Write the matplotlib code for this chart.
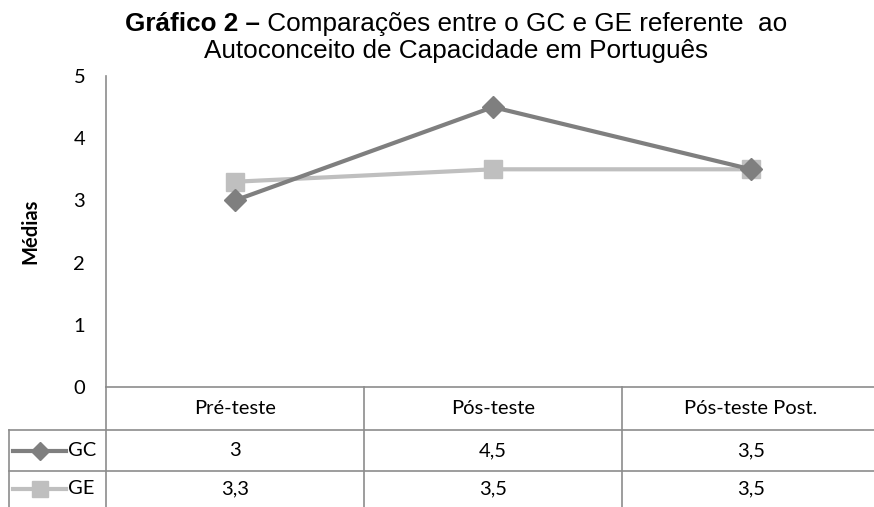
import matplotlib.pyplot as plt
from matplotlib.lines import Line2D
from matplotlib.transforms import blended_transform_factory

categories = ["Pré-teste", "Pós-teste", "Pós-teste Post."]
gc_values = [3, 4.5, 3.5]
ge_values = [3.3, 3.5, 3.5]
series_names = ["GC", "GE"]
yticks = [0, 1, 2, 3, 4, 5]

W, H = 874, 507
GC_COLOR = "#7f7f7f"
GE_COLOR = "#bfbfbf"
GRID = "#8c8c8c"
TICK_FONT = ["Lato", "DejaVu Sans"]
TITLE_FONT = ["Liberation Sans", "DejaVu Sans"]
FS = 14.5
LW = 3.0


def fx(px):
    return px / W


def fy(py):
    return 1 - py / H


def fmt(v):
    return ("%g" % v).replace(".", ",")


fig = plt.figure(figsize=(W / 100, H / 100), dpi=100)
ax = fig.add_axes([fx(106), fy(387), fx(880) - fx(106), fy(76) - fy(387)])

x = list(range(len(categories)))
ax.plot(x, gc_values, color=GC_COLOR, lw=LW, marker="D", ms=11, zorder=3)
ax.plot(x, ge_values, color=GE_COLOR, lw=LW, marker="s", ms=12.5, zorder=2)

ax.set_xlim(-0.5, len(categories) - 0.5)
ax.set_ylim(0, 5)
ax.set_yticks(yticks)
ax.set_yticklabels([str(t) for t in yticks], family=TICK_FONT, fontsize=FS)
ax.tick_params(axis="y", length=0, pad=15)
ax.set_xticks([])
for s in ["top", "right"]:
    ax.spines[s].set_visible(False)
for s in ["left", "bottom"]:
    ax.spines[s].set_color(GRID)
    ax.spines[s].set_linewidth(1.2)

ax.set_ylabel("Médias", family=TICK_FONT, fontsize=FS, fontweight="bold", labelpad=24)

# title: bold lead-in followed by regular text, centred as one line
renderer = fig.canvas.get_renderer()
bold = fig.text(0, fy(24), "Gráfico 2 –", ha="left", va="center",
                family=TITLE_FONT, fontsize=18.8, fontweight="bold")
rest = fig.text(0, fy(24), " Comparações entre o GC e GE referente  ao", ha="left",
                va="center", family=TITLE_FONT, fontsize=18.8)
wb = bold.get_window_extent(renderer).width
wr = rest.get_window_extent(renderer).width
x0 = 456 - (wb + wr) / 2
bold.set_x(fx(x0))
rest.set_x(fx(x0 + wb))
fig.text(fx(456), fy(51), "Autoconceito de Capacidade em Português",
         ha="center", va="center", family=TITLE_FONT, fontsize=18.8)

# data table under the axis
bt = blended_transform_factory(ax.transData, fig.transFigure)
row_top = [387, 430, 471]
row_bot = [430, 471, 507]


def hline(x0, x1, py):
    fig.add_artist(Line2D([fx(x0), fx(x1)], [fy(py), fy(py)], color=GRID, lw=1.2,
                          transform=fig.transFigure))


def vline(px, y0, y1):
    fig.add_artist(Line2D([fx(px), fx(px)], [fy(y0), fy(y1)], color=GRID, lw=1.2,
                          transform=fig.transFigure))


hline(9, 880, 430)
hline(9, 880, 471)
vline(106, 387, 507)
vline(9, 430, 507)
for b in [0.5, 1.5]:
    fig.add_artist(Line2D([b, b], [fy(387), fy(507)], color=GRID, lw=1.2, transform=bt))

for i, c in enumerate(categories):
    fig.text(i, fy((row_top[0] + row_bot[0]) / 2), c, transform=bt, ha="center",
             va="center", family=TICK_FONT, fontsize=FS)

for r, (vals, name, col, mk, ms) in enumerate([
        (gc_values, series_names[0], GC_COLOR, "D", 9.5),
        (ge_values, series_names[1], GE_COLOR, "s", 11)]):
    cy = fy((row_top[r + 1] + row_bot[r + 1]) / 2)
    for i, v in enumerate(vals):
        fig.text(i, cy, fmt(v), transform=bt, ha="center", va="center",
                 family=TICK_FONT, fontsize=FS)
    fig.add_artist(Line2D([fx(13), fx(66)], [cy, cy], color=col, lw=LW,
                          transform=fig.transFigure))
    fig.add_artist(Line2D([fx(40)], [cy], color=col, marker=mk, ms=ms, lw=0,
                          transform=fig.transFigure))
    fig.text(fx(68), cy, name, ha="left", va="center", family=TICK_FONT, fontsize=FS)

fig.savefig("out.png", dpi=100)
